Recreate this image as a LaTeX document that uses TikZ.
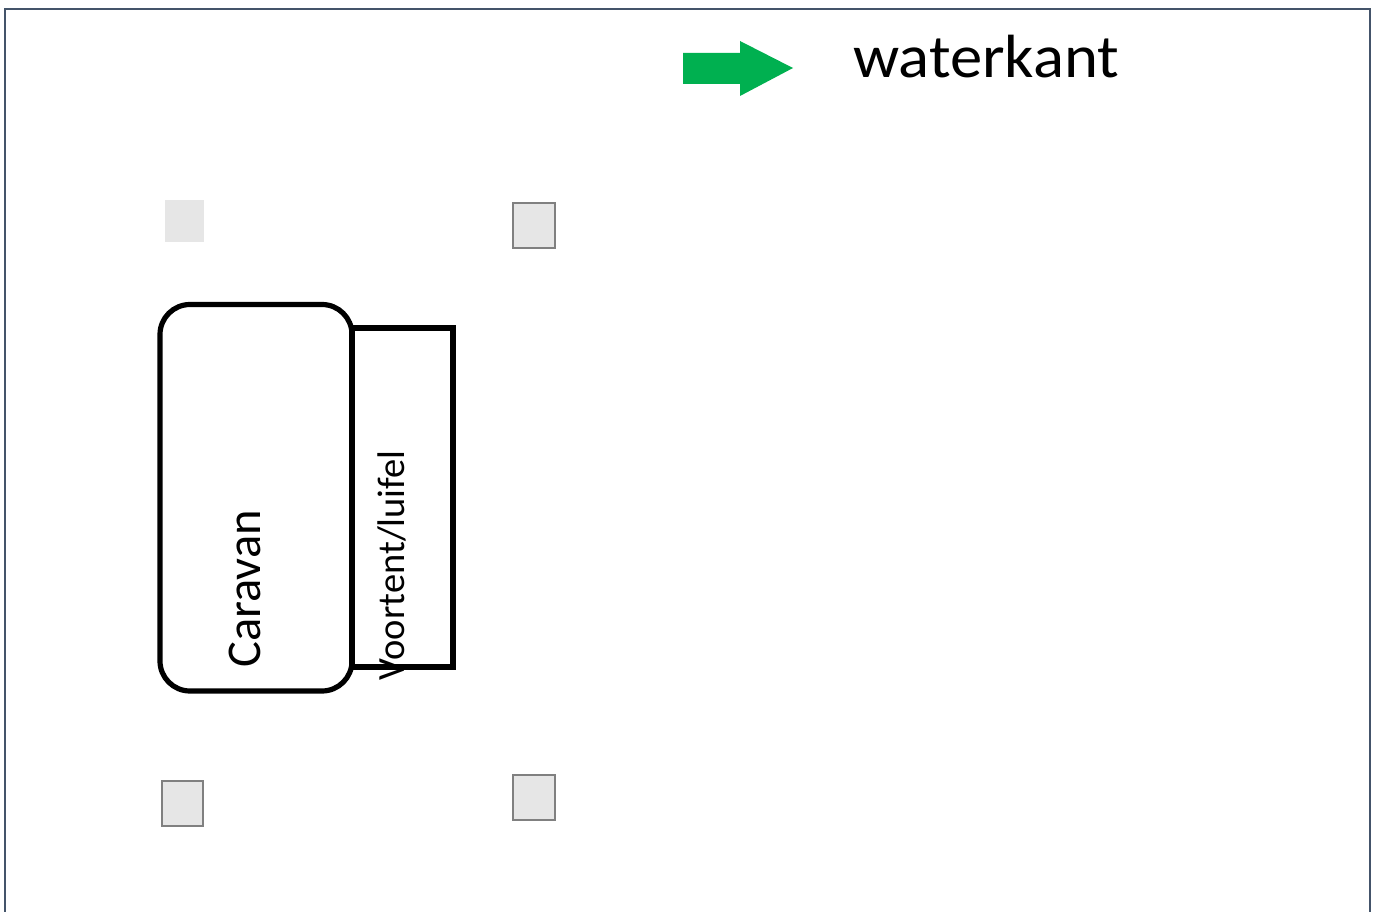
\documentclass[tikz,border=0pt]{standalone}
\usepackage{fontspec}
\setmainfont{Carlito}
\definecolor{frame}{HTML}{44546A}
\definecolor{pgreen}{HTML}{00B050}
\definecolor{pfill}{HTML}{E6E6E6}
\definecolor{pline}{HTML}{808080}
\begin{document}
\begin{tikzpicture}[x=1pt,y=-1pt,
  pole/.style={fill=pfill,draw=pline,line width=2.5pt},
  bare/.style={fill=pfill},
  outline/.style={draw=black,line width=5.2pt}]
\useasboundingbox (0,0) rectangle (1378,912);
\draw[frame,line width=2pt] (5,912) -- (5,9) -- (1370,9) -- (1370,912);
\fill[pgreen] (683,53) -- (740,53) -- (740,41) -- (793,68) -- (740,96) -- (740,84) -- (683,84) -- cycle;
\node[anchor=base west,inner sep=0pt,xscale=1.06,font=\fontsize{61}{63}\selectfont] (wk) at (853,78) {waterkant};
\path[bare] (165,200) rectangle (204,242);
\path[pole] (513,203) rectangle (555,248);
\path[pole] (162,781) rectangle (203,826);
\path[pole] (513,775) rectangle (555,820);
\draw[outline,rounded corners=30pt] (160,304.5) rectangle (352,691);
\draw[outline] (352,328) rectangle (453,667);
\node[rotate=90,inner sep=0pt,font=\fontsize{48.5}{50}\selectfont] (car) at (245,589) {Caravan};
\node[rotate=90,inner sep=0pt,font=\fontsize{38.5}{40}\selectfont] (vt) at (392,565.5) {Voortent/luifel};
\end{tikzpicture}
\end{document}
